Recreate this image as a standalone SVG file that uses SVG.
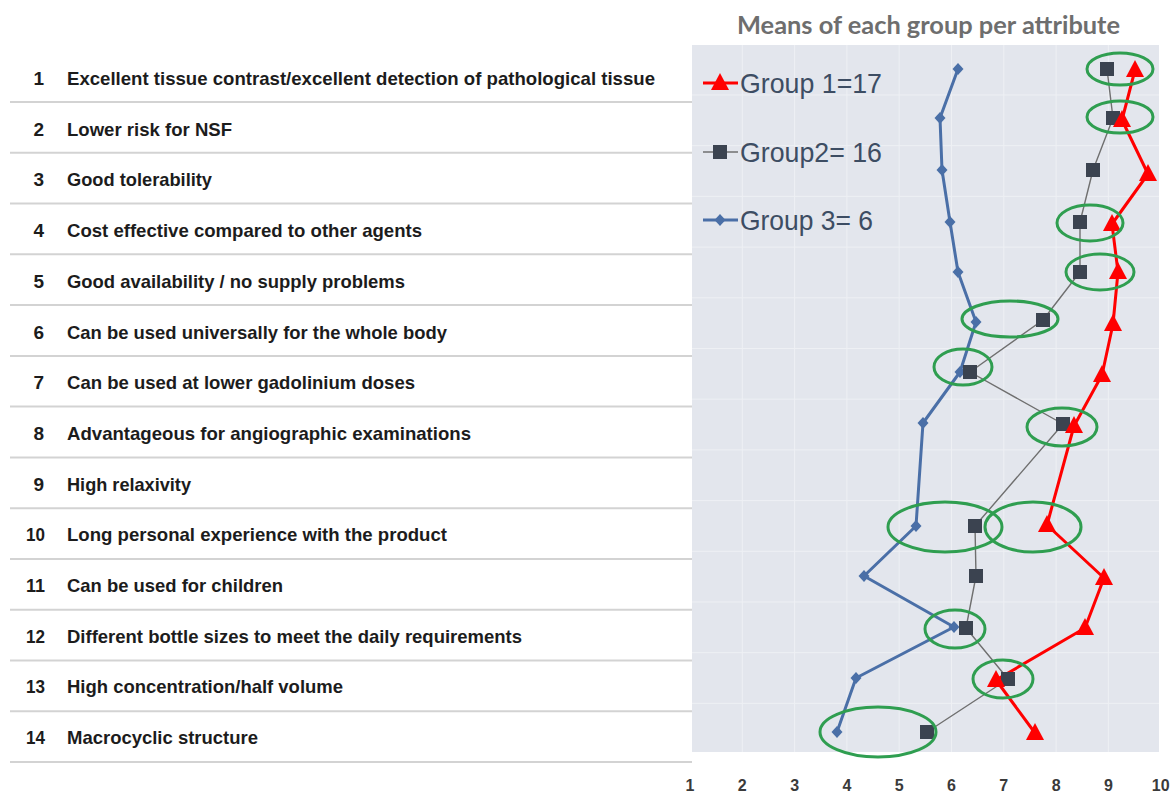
<svg xmlns="http://www.w3.org/2000/svg" xmlns:xlink="http://www.w3.org/1999/xlink" width="1172" height="794" viewBox="0 0 1172 794">
  <style>
    .lbl { font-family: "Liberation Sans Narrow", "Liberation Sans", Arial, sans-serif; font-size: 19px; font-weight: bold; fill: #1c1c1c; }
    .num { font-family: "Liberation Sans Narrow", "Liberation Sans", Arial, sans-serif; font-size: 19px; font-weight: bold; fill: #1c1c1c; text-anchor: end; }
    .sep { stroke: #d3d3d3; stroke-width: 2; }
    .grid { stroke: #eef0f4; stroke-width: 1; }
    .title { font-family: Lato, "Open Sans", "Liberation Sans", sans-serif; font-size: 25px; font-weight: bold; fill: #6e6e6e; }
    .leg { font-family: "Liberation Sans Narrow", "Liberation Sans", Arial, sans-serif; font-size: 28px; fill: #3d4d63; }
    .axis { font-family: "Liberation Sans Narrow", "Liberation Sans", Arial, sans-serif; font-size: 16px; font-weight: bold; fill: #3a3a3a; text-anchor: middle; }
    .g1 { fill: none; stroke: #ff0000; stroke-width: 3; stroke-linejoin: round; }
    .g2 { fill: none; stroke: #6f6f6f; stroke-width: 1.4; stroke-linejoin: round; }
    .g3 { fill: none; stroke: #4a6fa7; stroke-width: 3; stroke-linejoin: round; }
    .ring { fill: none; stroke: #2f9e50; stroke-width: 3; }
  </style>
  <defs>
    <polygon id="tri" points="0,-10 9,7 -9,7" fill="#ff0000"/>
    <rect id="sq" x="-7" y="-7" width="14" height="14" fill="#3b4350"/>
    <polygon id="dia" points="0,-6 5.5,0 0,6 -5.5,0" fill="#4a6fa7"/>
  </defs>

  <rect width="1172" height="794" fill="#ffffff"/>

  <!-- attribute table -->
  <g id="table">
    <g id="separators">
      <line class="sep" x1="10" y1="102" x2="692" y2="102"/>
      <line class="sep" x1="10" y1="152.8" x2="692" y2="152.8"/>
      <line class="sep" x1="10" y1="203.5" x2="692" y2="203.5"/>
      <line class="sep" x1="10" y1="254.3" x2="692" y2="254.3"/>
      <line class="sep" x1="10" y1="305.1" x2="692" y2="305.1"/>
      <line class="sep" x1="10" y1="355.9" x2="692" y2="355.9"/>
      <line class="sep" x1="10" y1="406.6" x2="692" y2="406.6"/>
      <line class="sep" x1="10" y1="457.4" x2="692" y2="457.4"/>
      <line class="sep" x1="10" y1="508.2" x2="692" y2="508.2"/>
      <line class="sep" x1="10" y1="558.9" x2="692" y2="558.9"/>
      <line class="sep" x1="10" y1="609.7" x2="692" y2="609.7"/>
      <line class="sep" x1="10" y1="660.5" x2="692" y2="660.5"/>
      <line class="sep" x1="10" y1="711.2" x2="692" y2="711.2"/>
      <line class="sep" x1="10" y1="762" x2="692" y2="762"/>
    </g>
    <g id="row-1"><text class="num" x="44" y="85">1</text><text class="lbl" x="67" y="85" textLength="588" lengthAdjust="spacingAndGlyphs">Excellent tissue contrast/excellent detection of pathological tissue</text></g>
    <g id="row-2"><text class="num" x="44" y="135.7">2</text><text class="lbl" x="67" y="135.7" textLength="165" lengthAdjust="spacingAndGlyphs">Lower risk for NSF</text></g>
    <g id="row-3"><text class="num" x="44" y="186.4">3</text><text class="lbl" x="67" y="186.4" textLength="145" lengthAdjust="spacingAndGlyphs">Good tolerability</text></g>
    <g id="row-4"><text class="num" x="44" y="237.1">4</text><text class="lbl" x="67" y="237.1" textLength="355" lengthAdjust="spacingAndGlyphs">Cost effective compared to other agents</text></g>
    <g id="row-5"><text class="num" x="44" y="287.8">5</text><text class="lbl" x="67" y="287.8" textLength="338" lengthAdjust="spacingAndGlyphs">Good availability / no supply problems</text></g>
    <g id="row-6"><text class="num" x="44" y="338.5">6</text><text class="lbl" x="67" y="338.5" textLength="380" lengthAdjust="spacingAndGlyphs">Can be used universally for the whole body</text></g>
    <g id="row-7"><text class="num" x="44" y="389.2">7</text><text class="lbl" x="67" y="389.2" textLength="348" lengthAdjust="spacingAndGlyphs">Can be used at lower gadolinium doses</text></g>
    <g id="row-8"><text class="num" x="44" y="439.9">8</text><text class="lbl" x="67" y="439.9" textLength="404" lengthAdjust="spacingAndGlyphs">Advantageous for angiographic examinations</text></g>
    <g id="row-9"><text class="num" x="44" y="490.6">9</text><text class="lbl" x="67" y="490.6" textLength="124" lengthAdjust="spacingAndGlyphs">High relaxivity</text></g>
    <g id="row-10"><text class="num" x="45" y="541.3" textLength="19" lengthAdjust="spacingAndGlyphs">10</text><text class="lbl" x="67" y="541.3" textLength="380" lengthAdjust="spacingAndGlyphs">Long personal experience with the product</text></g>
    <g id="row-11"><text class="num" x="45" y="592" textLength="19" lengthAdjust="spacingAndGlyphs">11</text><text class="lbl" x="67" y="592" textLength="216" lengthAdjust="spacingAndGlyphs">Can be used for children</text></g>
    <g id="row-12"><text class="num" x="45" y="642.7" textLength="19" lengthAdjust="spacingAndGlyphs">12</text><text class="lbl" x="67" y="642.7" textLength="455" lengthAdjust="spacingAndGlyphs">Different bottle sizes to meet the daily requirements</text></g>
    <g id="row-13"><text class="num" x="45" y="693.4" textLength="19" lengthAdjust="spacingAndGlyphs">13</text><text class="lbl" x="67" y="693.4" textLength="276" lengthAdjust="spacingAndGlyphs">High concentration/half volume</text></g>
    <g id="row-14"><text class="num" x="45" y="744.1" textLength="19" lengthAdjust="spacingAndGlyphs">14</text><text class="lbl" x="67" y="744.1" textLength="191" lengthAdjust="spacingAndGlyphs">Macrocyclic structure</text></g>
  </g>

  <!-- chart -->
  <g id="chart-title"><text class="title" x="737" y="34" textLength="383" lengthAdjust="spacingAndGlyphs">Means of each group per attribute</text></g>

  <g id="plot-area">
    <rect x="692" y="45" width="467" height="707" fill="#e3e6ed"/>
    <g id="gridlines">
      <line class="grid" x1="742.3" y1="45" x2="742.3" y2="752"/>
      <line class="grid" x1="794.6" y1="45" x2="794.6" y2="752"/>
      <line class="grid" x1="846.9" y1="45" x2="846.9" y2="752"/>
      <line class="grid" x1="899.2" y1="45" x2="899.2" y2="752"/>
      <line class="grid" x1="951.5" y1="45" x2="951.5" y2="752"/>
      <line class="grid" x1="1003.8" y1="45" x2="1003.8" y2="752"/>
      <line class="grid" x1="1056.1" y1="45" x2="1056.1" y2="752"/>
      <line class="grid" x1="1108.4" y1="45" x2="1108.4" y2="752"/>
      <line class="grid" x1="692" y1="95" x2="1159" y2="95"/>
      <line class="grid" x1="692" y1="145.7" x2="1159" y2="145.7"/>
      <line class="grid" x1="692" y1="196.4" x2="1159" y2="196.4"/>
      <line class="grid" x1="692" y1="247.1" x2="1159" y2="247.1"/>
      <line class="grid" x1="692" y1="297.8" x2="1159" y2="297.8"/>
      <line class="grid" x1="692" y1="348.5" x2="1159" y2="348.5"/>
      <line class="grid" x1="692" y1="399.2" x2="1159" y2="399.2"/>
      <line class="grid" x1="692" y1="449.9" x2="1159" y2="449.9"/>
      <line class="grid" x1="692" y1="500.6" x2="1159" y2="500.6"/>
      <line class="grid" x1="692" y1="551.3" x2="1159" y2="551.3"/>
      <line class="grid" x1="692" y1="602" x2="1159" y2="602"/>
      <line class="grid" x1="692" y1="652.7" x2="1159" y2="652.7"/>
      <line class="grid" x1="692" y1="703.4" x2="1159" y2="703.4"/>
    </g>
  </g>

  <g id="axis-labels">
    <text class="axis" x="690" y="791">1</text>
    <text class="axis" x="742.3" y="791">2</text>
    <text class="axis" x="794.6" y="791">3</text>
    <text class="axis" x="846.9" y="791">4</text>
    <text class="axis" x="899.2" y="791">5</text>
    <text class="axis" x="951.5" y="791">6</text>
    <text class="axis" x="1003.8" y="791">7</text>
    <text class="axis" x="1056.1" y="791">8</text>
    <text class="axis" x="1108.4" y="791">9</text>
    <text class="axis" x="1160.7" y="791">10</text>
  </g>

  <!-- series lines (attribute 9 has no value; lines bridge the gap) -->
  <g id="connectors">
    <polyline id="line-group3" class="g3" points="958,69 940,118 942,170 950,222 958,272 976,322 960,372 923,423 916,526 864,576 954,627 856,678 837,732"/>
    <polyline id="line-group2" class="g2" points="1107,69 1113,118 1093,170 1080,222 1080,272 1043,320 970,372 1063,424 975,526 976,576 966,628 1008,679 927,732"/>
    <polyline id="line-group1" class="g1" points="1135,70 1122,120 1148,174 1112,224 1118,272 1113,324 1102,375 1074,426 1047,525 1104,578 1085,628 996,680 1035,733"/>
  </g>

  <g id="markers-group3">
    <use href="#dia" x="958" y="69"/><use href="#dia" x="940" y="118"/><use href="#dia" x="942" y="170"/>
    <use href="#dia" x="950" y="222"/><use href="#dia" x="958" y="272"/><use href="#dia" x="976" y="322"/>
    <use href="#dia" x="960" y="372"/><use href="#dia" x="923" y="423"/><use href="#dia" x="916" y="526"/>
    <use href="#dia" x="864" y="576"/><use href="#dia" x="954" y="627"/><use href="#dia" x="856" y="678"/>
    <use href="#dia" x="837" y="732"/>
  </g>
  <g id="markers-group2">
    <use href="#sq" x="1107" y="69"/><use href="#sq" x="1113" y="118"/><use href="#sq" x="1093" y="170"/>
    <use href="#sq" x="1080" y="222"/><use href="#sq" x="1080" y="272"/><use href="#sq" x="1043" y="320"/>
    <use href="#sq" x="970" y="372"/><use href="#sq" x="1063" y="424"/><use href="#sq" x="975" y="526"/>
    <use href="#sq" x="976" y="576"/><use href="#sq" x="966" y="628"/><use href="#sq" x="1008" y="679"/>
    <use href="#sq" x="927" y="732"/>
  </g>
  <g id="markers-group1">
    <use href="#tri" x="1135" y="70"/><use href="#tri" x="1122" y="120"/><use href="#tri" x="1148" y="174"/>
    <use href="#tri" x="1112" y="224"/><use href="#tri" x="1118" y="272"/><use href="#tri" x="1113" y="324"/>
    <use href="#tri" x="1102" y="375"/><use href="#tri" x="1074" y="426"/><use href="#tri" x="1047" y="525"/>
    <use href="#tri" x="1104" y="578"/><use href="#tri" x="1085" y="628"/><use href="#tri" x="996" y="680"/>
    <use href="#tri" x="1035" y="733"/>
  </g>

  <!-- highlight rings -->
  <g id="highlights">
    <ellipse class="ring" cx="1120" cy="69" rx="33" ry="16"/>
    <ellipse class="ring" cx="1120" cy="117" rx="33" ry="16"/>
    <ellipse class="ring" cx="1090" cy="223" rx="33" ry="18"/>
    <ellipse class="ring" cx="1100" cy="272" rx="34" ry="18"/>
    <ellipse class="ring" cx="1010" cy="319" rx="48" ry="18"/>
    <ellipse class="ring" cx="963" cy="367" rx="29" ry="18"/>
    <ellipse class="ring" cx="1062" cy="427" rx="35" ry="19"/>
    <ellipse class="ring" cx="945" cy="527" rx="57" ry="25"/>
    <ellipse class="ring" cx="1033" cy="527" rx="48" ry="25"/>
    <ellipse class="ring" cx="955" cy="629" rx="30" ry="19"/>
    <ellipse class="ring" cx="1003" cy="679" rx="30" ry="19"/>
    <ellipse class="ring" cx="878" cy="732" rx="58" ry="25"/>
  </g>

  <!-- legend -->
  <g id="legend">
    <g id="legend-group1">
      <line x1="703" y1="83" x2="738" y2="83" stroke="#ff0000" stroke-width="3"/>
      <use href="#tri" x="720" y="83"/>
      <text class="leg" x="740" y="93" textLength="142" lengthAdjust="spacingAndGlyphs">Group 1=17</text>
    </g>
    <g id="legend-group2">
      <line x1="703" y1="152" x2="738" y2="152" stroke="#6f6f6f" stroke-width="1.6"/>
      <use href="#sq" x="720" y="152"/>
      <text class="leg" x="740" y="162" textLength="142" lengthAdjust="spacingAndGlyphs">Group2= 16</text>
    </g>
    <g id="legend-group3">
      <line x1="703" y1="220" x2="738" y2="220" stroke="#4a6fa7" stroke-width="3"/>
      <use href="#dia" x="720" y="220"/>
      <text class="leg" x="740" y="230" textLength="133" lengthAdjust="spacingAndGlyphs">Group 3= 6</text>
    </g>
  </g>
</svg>
